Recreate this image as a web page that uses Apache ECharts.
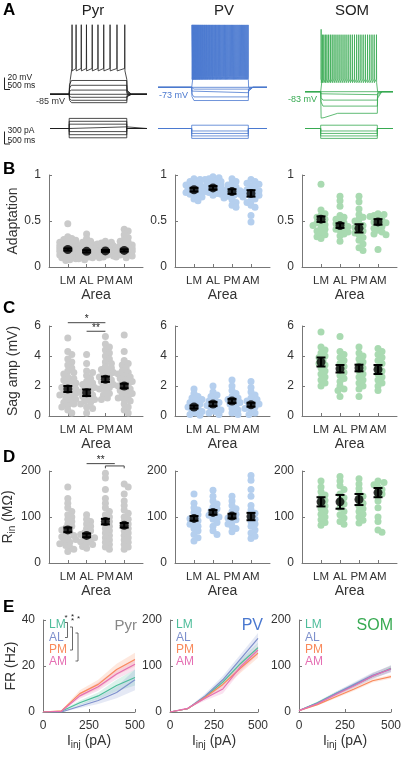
<!DOCTYPE html>
<html><head><meta charset="utf-8">
<script src="https://cdn.jsdelivr.net/npm/echarts@6/dist/echarts.min.js"></script>
<style>html,body{margin:0;padding:0;background:#fff}#c{width:402px;height:758px}</style>
</head><body><div id="c"></div><script>
const FONT = '"Liberation Sans", Arial, sans-serif';
const areas = ['LM','AL','PM','AM'];
const cellTypes = ['Pyr','PV','SOM'];
const typeColors = ['#1e1e1e','#4a78cf','#37aa52'];
const dotColors = ['#cacaca','#b5cfee','#a9dab1'];
const areaColors = ['#4dbd9a','#7e90cc','#f98a5c','#e56fb3'];

// ---- A: example traces ----
const pyrRestMv = -85, pvRestMv = -73, somRestMv = -83;
const pyrStepPa = [-225,-150,-75,40,105,175,245];
const pyrStepMv = [-99,-95,-90,-78,-70,-62,null];
const pvStepPa = [-240,-180,-120,-60,80];
const pvStepMv = [-95,-89,-82,-76,null];
const somStepPa = [-240,-180,-120,-60,80];
const somStepMv = [-119,-107,-97,-88,null];
const somSagMv = [8,0,0,0,0];
const pyrSpikeMs = [50,120,210,300,400,500,600,710,830,965];
const pvSpikeMs = [5,13,21,29,38,47,56,65,74,84,94,104,114,124,135,146,157,168,179,190,202,214,226,238,250,262,274,287,300,313,326,339,352,365,378,392,406,420,434,448,462,476,490,505,520,535,550,565,580,595,610,625,640,656,672,688,704,720,736,752,768,784,800,816,832,848,864,880,897,914,931,948,965,982,998];
const somSpikeMs = [8,30,55,82,110,140,171,203,236,270,305,340,376,412,448,485,522,559,597,635,673,711,750,789,828,867,906,945,985];

// ---- B: adaptation ----
const adaptPyr = [
 [0.47,0.33,0.31,0.30,0.29,0.28,0.27,0.26,0.25,0.25,0.24,0.23,0.23,0.22,0.22,0.21,0.21,0.20,0.20,0.20,0.19,0.19,0.18,0.18,0.18,0.17,0.17,0.16,0.16,0.15,0.15,0.14,0.14,0.13,0.13,0.12,0.11,0.10,0.09,0.08,0.07],
 [0.36,0.31,0.28,0.27,0.25,0.24,0.23,0.22,0.21,0.20,0.20,0.19,0.18,0.18,0.17,0.17,0.16,0.16,0.15,0.15,0.14,0.14,0.13,0.13,0.12,0.11,0.10,0.09,0.08],
 [0.28,0.27,0.26,0.25,0.24,0.23,0.22,0.21,0.21,0.20,0.19,0.19,0.18,0.18,0.17,0.17,0.16,0.16,0.15,0.15,0.14,0.14,0.13,0.12,0.11,0.10],
 [0.41,0.39,0.35,0.32,0.30,0.28,0.27,0.25,0.24,0.23,0.22,0.21,0.20,0.20,0.19,0.18,0.18,0.17,0.17,0.16,0.16,0.15,0.15,0.14,0.14,0.13,0.12,0.11,0.10]];
const adaptPv = [
 [0.96,0.95,0.93,0.92,0.90,0.89,0.88,0.87,0.86,0.85,0.84,0.83,0.82,0.81,0.80,0.79,0.78,0.76,0.74,0.72],
 [0.98,0.97,0.96,0.95,0.94,0.93,0.92,0.91,0.90,0.89,0.88,0.87,0.86,0.85,0.84,0.83,0.82,0.81,0.80,0.79,0.78],
 [0.96,0.93,0.91,0.89,0.87,0.85,0.84,0.83,0.82,0.81,0.80,0.79,0.78,0.77,0.75,0.73,0.70,0.67,0.65],
 [0.95,0.93,0.91,0.90,0.88,0.86,0.84,0.83,0.82,0.81,0.80,0.79,0.78,0.77,0.76,0.74,0.72,0.70,0.67,0.65,0.56,0.49]];
const adaptSom = [
 [0.90,0.62,0.58,0.56,0.54,0.52,0.50,0.48,0.46,0.45,0.43,0.41,0.39,0.37,0.35,0.33,0.31],
 [0.77,0.72,0.66,0.56,0.54,0.52,0.50,0.48,0.47,0.45,0.44,0.42,0.41,0.40,0.38,0.36,0.34,0.28],
 [0.77,0.71,0.63,0.57,0.54,0.52,0.50,0.47,0.45,0.43,0.41,0.39,0.37,0.35,0.32,0.29,0.25,0.21,0.18],
 [0.58,0.57,0.56,0.55,0.53,0.51,0.49,0.48,0.46,0.44,0.42,0.40,0.38,0.36,0.35,0.19]];
const adaptMean = [[0.19,0.17,0.175,0.18],[0.84,0.86,0.82,0.80],[0.52,0.45,0.42,0.49]];
const adaptSem = [[0.012,0.012,0.01,0.012],[0.02,0.02,0.025,0.035],[0.03,0.025,0.045,0.03]];

// ---- C: sag amplitude (mV) ----
const sagPyr = [
 [5.2,4.3,4.1,3.8,3.6,3.4,3.2,3.0,2.9,2.8,2.6,2.5,2.4,2.3,2.2,2.1,2.0,1.9,1.8,1.8,1.7,1.6,1.5,1.5,1.4,1.3,1.2,1.1,1.0,0.9,0.8,0.7,0.6,0.4,0.2],
 [4.1,3.5,3.0,2.9,2.7,2.5,2.3,2.2,2.1,2.0,1.9,1.8,1.7,1.6,1.5,1.4,1.3,1.2,1.1,1.0,0.9,0.8,0.6,0.5,0.2],
 [5.3,4.8,4.6,4.4,4.2,4.0,3.8,3.6,3.5,3.3,3.2,3.1,3.0,2.9,2.8,2.7,2.6,2.5,2.4,2.3,2.2,2.1,2.0,1.9,1.8,1.7,1.5,1.4,1.2,1.1],
 [5.4,4.3,3.7,3.5,3.4,3.2,3.0,2.9,2.8,2.7,2.6,2.5,2.4,2.3,2.2,2.1,2.0,1.9,1.8,1.7,1.6,1.5,1.4,1.3,1.2,1.1,1.0,0.8,0.6,0.4,0.2]];
const sagPv = [
 [1.8,1.5,1.3,1.2,1.1,1.0,0.9,0.8,0.7,0.6,0.5,0.4,0.3,0.2,0.1,0.05],
 [2.0,1.6,1.4,1.3,1.1,1.0,0.9,0.8,0.7,0.6,0.5,0.4,0.3,0.2,0.1],
 [2.4,2.0,1.7,1.5,1.3,1.2,1.1,1.0,0.9,0.8,0.7,0.5,0.4,0.2,0.1],
 [2.3,1.9,1.6,1.4,1.2,1.1,1.0,0.9,0.8,0.7,0.6,0.5,0.4,0.2,0.1]];
const sagSom = [
 [5.6,4.6,4.4,4.2,4.0,3.9,3.7,3.5,3.4,3.2,3.0,2.8,2.6,2.4,2.2,2.0],
 [5.3,4.3,4.1,3.9,3.7,3.5,3.3,3.1,2.9,2.7,2.5,2.3,2.0,1.8,1.7,1.3],
 [4.6,4.2,4.0,3.8,3.6,3.4,3.2,3.0,2.8,2.6,2.4,2.2,2.0,1.8,1.3],
 [4.5,4.3,4.1,3.9,3.7,3.5,3.2,3.0,2.8,2.6,2.4,2.2,2.0,1.7]];
const sagMean = [[1.8,1.55,2.45,2.0],[0.6,0.8,1.0,0.75],[3.6,3.15,3.2,3.1]];
const sagSem = [[0.2,0.22,0.18,0.15],[0.1,0.14,0.14,0.13],[0.3,0.25,0.22,0.3]];
const sagPyrSig = [{a:1,b:3,y:6.22,label:'*'},{a:2,b:3,y:5.65,label:'**'}];

// ---- D: input resistance (MOhm) ----
const rinPyr = [
 [165,140,130,120,112,105,100,95,90,85,80,76,72,68,64,60,57,54,51,48,45,42,38,34,30,25],
 [105,95,90,85,80,75,70,66,62,58,55,52,49,46,43,40,36,32],
 [195,185,160,140,130,120,112,105,100,95,90,85,80,75,70,65,60,55,50,45,40,35,30],
 [172,165,150,135,125,115,108,100,95,90,85,80,75,70,65,60,55,50,45,40,35,30]];
const rinPv = [
 [150,130,120,115,110,105,100,96,92,88,84,80,75,70,62,55,48],
 [158,145,135,128,122,118,113,108,104,100,95,88,80,70,62],
 [145,135,125,118,112,106,102,98,94,90,85,80,75,68],
 [190,180,160,145,125,115,108,100,95,90,85,80,72,65,58,53]];
const rinSom = [
 [178,165,155,148,142,136,130,124,118,112,106,100,94,88,82],
 [188,178,168,160,150,142,135,128,120,112,105,98,90,84],
 [183,172,162,152,145,138,130,124,118,112,106,100,93,87],
 [178,175,170,165,160,155,150,145,135,120,100,90,72,67]];
const rinMean = [[72,60,90,82],[97,110,102,101],[133,133,138,153]];
const rinSem = [[5,4,6,5],[5,5,5,8],[10,15,12,10]];
const rinPyrSig = [{a:2,b:3.5,y:216,label:'**'},{a:3,b:4,y:211,drop:6}];

// ---- E: F-I curves ----
const injPa = [0,100,200,300,400,500];
const frPyrMean = [[0,0.3,4,7,11.5,15],[0,0,2.5,5,8.5,14],[0,0.5,8,12,18.5,22.8],[0,0.3,7,11,16.5,20.8]];
const frPyrSem = [[0,0.2,1,1.5,2.5,3.5],[0,0.1,0.8,1.5,2.5,4.5],[0,0.3,1.5,2,2.5,3],[0,0.2,1.2,1.8,2.2,2.5]];
const frPvMean = [[0,7,33,65,105,140],[0,7,35,70,115,160],[0,7,32,60,95,128],[0,8,30,50,98,135]];
const frPvSem = [[0,1,4,7,9,10],[0,1,5,8,10,12],[0,1,4,8,10,10],[0,1,5,10,10,10]];
const frSomMean = [[3,20,40,58,78,95],[3,19,40,60,80,93],[3,16,33,50,68,77],[3,18,38,57,78,94]];
const frSomSem = [[1,3,4,5,6,7],[1,3,4,5,6,7],[1,2,3,4,4,4],[1,3,4,5,6,7]];

// ================== build ==================
const option = {animation:false, backgroundColor:'#fff', textStyle:{fontFamily:FONT},
  grid:[], xAxis:[], yAxis:[], series:[], graphic:[]};
function addGrid(rect, xa, ya){
  const i = option.grid.length;
  option.grid.push(Object.assign({containLabel:false, outerBoundsMode:'none'}, rect));
  option.xAxis.push(Object.assign({gridIndex:i}, xa));
  option.yAxis.push(Object.assign({gridIndex:i}, ya));
  return i;
}
const hidden = (min,max)=>({type:'value', min, max, show:false, splitLine:{show:false}});

// ---- A traces ----
function subTrace(t0,t1,rest,level,sag){
  const pts=[[t0,rest],[0,rest]];
  if (sag){ pts.push([8,level-sag],[60,level-sag*0.9],[300,level]); }
  else { pts.push([5,rest+(level-rest)*0.7],[40,level]); }
  pts.push([1000,level],[1005,rest+(level-rest)*0.3],[1080,rest],[t1,rest]);
  return pts;
}
function spikeTrace(t0,t1,rest,spikes,p){
  const pts=[[t0,rest],[0,rest],[20,p.plateau]];
  spikes.forEach((t,i)=>{ pts.push([t-3,p.thresh],[t,i===0&&p.first?p.first:p.peak],[t+3,p.trough]); });
  pts.push([1000,p.plateau],[1005,rest],[t1,rest]);
  return pts;
}
function curTrace(t0,t1,lvl){ return [[t0,0],[0,0],[0,lvl],[1000,lvl],[1000,0],[t1,0]]; }
const aCells = [
 {left:50,width:97,t0:-333,t1:1351,vmin:-111.2,vmax:42.2,vh:92,rest:pyrRestMv,pa:pyrStepPa,mv:pyrStepMv,sag:[],spikes:pyrSpikeMs,sp:{plateau:-60,thresh:-42,peak:31,trough:-46}},
 {left:158,width:109,t0:-595,t1:1330,vmin:-110.8,vmax:42.5,vh:92,rest:pvRestMv,pa:pvStepPa,mv:pvStepMv,sag:[],spikes:pvSpikeMs,sp:{plateau:-58,thresh:-55,peak:31,trough:-60}},
 {left:305,width:88,t0:-277,t1:1277,vmin:-138.5,vmax:39.8,vh:107,rest:somRestMv,pa:somStepPa,mv:somStepMv,sag:somSagMv,spikes:somSpikeMs,sp:{plateau:-66,thresh:-62,first:21,peak:12,trough:-68}}
];
aCells.forEach((c,ci)=>{
  const gv = addGrid({left:c.left,top:18,width:c.width,height:c.vh}, hidden(c.t0,c.t1), hidden(c.vmin,c.vmax));
  const gi = addGrid({left:c.left,top:112,width:c.width,height:33}, hidden(c.t0,c.t1), hidden(-400,400));
  const ls = {color:typeColors[ci], width:0.8};
  c.mv.forEach((lv,k)=>{
    const d = lv===null ? spikeTrace(c.t0,c.t1,c.rest,c.spikes,c.sp) : subTrace(c.t0,c.t1,c.rest,lv,c.sag[k]||0);
    option.series.push({type:'line', xAxisIndex:gv, yAxisIndex:gv, data:d, symbol:'none', lineStyle:ls, silent:true});
  });
  option.series.push({type:'line', xAxisIndex:gv, yAxisIndex:gv, data:[[c.t0,c.rest],[c.t1,c.rest]], symbol:'none', lineStyle:ls, silent:true});
  c.pa.forEach(lv=>{
    option.series.push({type:'line', xAxisIndex:gi, yAxisIndex:gi, data:curTrace(c.t0,c.t1,lv), symbol:'none', lineStyle:{color:typeColors[ci], width:0.8}, silent:true});
  });
});

// ---- B-D scatter panels ----
function swarm(values, cat, pxY, pxX){
  const sorted = values.slice().sort((a,b)=>b-a);
  const placed=[], out=[];
  const offs=[0,2,-2,4,-4,6,-6,8,-8];
  for (const v of sorted){
    const py=v*pxY; let best=0, bestScore=-1;
    for (const o of offs){
      let md=Infinity;
      for (const p of placed){ const d=Math.hypot(p[0]-o,p[1]-py); if(d<md) md=d; }
      if (md>=4.3){ best=o; bestScore=Infinity; break; }
      if (md>bestScore){ bestScore=md; best=o; }
    }
    placed.push([best,py]); out.push([cat+best/pxX, v]);
  }
  return out;
}
const colLefts=[49,175,302], colWidths=[94,95,95];
const rows = [
 {top:175,h:92,min:0,max:1,iv:0.5,name:'Adaptation',vals:[adaptPyr,adaptPv,adaptSom],mean:adaptMean,sem:adaptSem},
 {top:326,h:90,min:0,max:6,iv:2,name:'Sag amp (mV)',vals:[sagPyr,sagPv,sagSom],mean:sagMean,sem:sagSem,sig:sagPyrSig},
 {top:471,h:92,min:0,max:200,iv:100,name:'{a|R}{s|in}{a| (MΩ)}',vals:[rinPyr,rinPv,rinSom],mean:rinMean,sem:rinSem,sig:rinPyrSig}
];
const axisLineStyle={color:'#777', width:1};
const nameRich={a:{fontSize:14,color:'#333',fontFamily:FONT},s:{fontSize:10,color:'#333',fontFamily:FONT,padding:[0,0,-8,0]}};
rows.forEach(r=>{
  for (let c=0;c<3;c++){
    const g = addGrid({left:colLefts[c],top:r.top,width:colWidths[c],height:r.h},
      {type:'value',min:0,max:5,interval:1,splitLine:{show:false},
       axisLine:{show:true,lineStyle:axisLineStyle},
       axisTick:{show:true,inside:true,length:3,customValues:[1,2,3,4],lineStyle:axisLineStyle},
       axisLabel:{customValues:[1,2,3,4],formatter:v=>areas[v-1]||'',fontSize:11.5,color:'#333',margin:8,fontFamily:FONT},
       name:'Area',nameLocation:'middle',nameGap:21,nameTextStyle:{fontSize:14,color:'#333',fontFamily:FONT}},
      {type:'value',min:r.min,max:r.max,interval:r.iv,splitLine:{show:false},
       axisLine:{show:true,lineStyle:axisLineStyle},
       axisTick:{show:true,inside:true,length:3,lineStyle:axisLineStyle},
       axisLabel:{fontSize:12,color:'#333',margin:8,fontFamily:FONT},
       name:c===0?r.name:'',nameLocation:'middle',nameGap:29,nameRotate:90,
       nameTextStyle:{fontSize:14,color:'#333',fontFamily:FONT,rich:nameRich}});
    const pxY=r.h/(r.max-r.min), pxX=colWidths[c]/5;
    const pts=[]; r.vals[c].forEach((vs,k)=>pts.push(...swarm(vs,k+1,pxY,pxX)));
    option.series.push({type:'scatter',xAxisIndex:g,yAxisIndex:g,data:pts,symbolSize:7,
      itemStyle:{color:dotColors[c],opacity:1},silent:true,z:2});
    option.series.push({type:'custom',xAxisIndex:g,yAxisIndex:g,z:5,silent:true,
      data:r.mean[c].map((m,k)=>[k+1,m,r.sem[c][k]]),
      renderItem:(p,api)=>{
        const x=api.value(0),m=api.value(1),s=api.value(2);
        const t=api.coord([x,m+s]), b=api.coord([x,m-s]), cw=4.5;
        const st={stroke:'#000',lineWidth:2};
        return {type:'group',children:[
          {type:'line',shape:{x1:t[0],y1:t[1],x2:b[0],y2:b[1]},style:st},
          {type:'line',shape:{x1:t[0]-cw,y1:t[1],x2:t[0]+cw,y2:t[1]},style:st},
          {type:'line',shape:{x1:b[0]-cw,y1:b[1],x2:b[0]+cw,y2:b[1]},style:st}]};
      }});
    option.series.push({type:'scatter',xAxisIndex:g,yAxisIndex:g,data:r.mean[c].map((m,k)=>[k+1,m]),
      symbolSize:9,itemStyle:{color:'#000'},silent:true,z:6});
    if (c===0 && r.sig){
      option.series.push({type:'custom',xAxisIndex:g,yAxisIndex:g,z:7,silent:true,clip:false,
        data:r.sig.map(s=>[s.a,s.b,s.y,s.drop||0]),
        renderItem:(p,api)=>{
          const sg=r.sig[p.dataIndex];
          const a=api.coord([api.value(0),api.value(2)]), b=api.coord([api.value(1),api.value(2)]);
          const dr=api.value(3), st={stroke:'#444',lineWidth:1};
          const ch=[{type:'line',shape:{x1:a[0],y1:a[1],x2:b[0],y2:b[1]},style:st}];
          if (dr){ ch.push({type:'line',shape:{x1:a[0],y1:a[1],x2:a[0],y2:a[1]+dr*0.4},style:st},
                            {type:'line',shape:{x1:b[0],y1:b[1],x2:b[0],y2:b[1]+dr*0.4},style:st}); }
          if (sg.label) ch.push({type:'text',style:{x:(a[0]+b[0])/2,y:a[1]+2,text:sg.label,fontSize:10,fill:'#222',align:'center',verticalAlign:'bottom',fontFamily:FONT}});
          return {type:'group',children:ch};
        }});
    }
  }
});

// ---- E: F-I curves ----
const eLefts=[43,170,299], eWidths=[92,88,92];
const frMeans=[frPyrMean,frPvMean,frSomMean], frSems=[frPyrSem,frPvSem,frSomSem], frMax=[40,200,200], frIv=[20,100,100];
for (let c=0;c<3;c++){
  const g = addGrid({left:eLefts[c],top:620,width:eWidths[c],height:92},
    {type:'value',min:0,max:500,interval:250,splitLine:{show:false},
     axisLine:{show:true,lineStyle:axisLineStyle},
     axisTick:{show:true,inside:true,length:3,lineStyle:axisLineStyle},
     axisLabel:{fontSize:12,color:'#333',margin:8,fontFamily:FONT},
     name:'{a|I}{s|inj}{a| (pA)}',nameLocation:'middle',nameGap:22,
     nameTextStyle:{fontSize:14,color:'#333',fontFamily:FONT,rich:nameRich}},
    {type:'value',min:0,max:frMax[c],interval:frIv[c],splitLine:{show:false},
     axisLine:{show:true,lineStyle:axisLineStyle},
     axisTick:{show:true,inside:true,length:3,lineStyle:axisLineStyle},
     axisLabel:{fontSize:12,color:'#333',margin:8,fontFamily:FONT},
     name:c===0?'FR (Hz)':'',nameLocation:'middle',nameGap:23,nameRotate:90,
     nameTextStyle:{fontSize:14,color:'#333',fontFamily:FONT}});
  for (let k=0;k<4;k++){
    const m=frMeans[c][k], s=frSems[c][k], col=areaColors[k];
    option.series.push({type:'custom',xAxisIndex:g,yAxisIndex:g,silent:true,z:2,
      data:injPa.map((x,i)=>[x,m[i]-s[i],m[i]+s[i]]),
      renderItem:(p,api)=>{
        if (p.dataIndex!==0) return null;
        const pts=[];
        for (let i=0;i<injPa.length;i++) pts.push(api.coord([injPa[i],m[i]+s[i]]));
        for (let i=injPa.length-1;i>=0;i--) pts.push(api.coord([injPa[i],m[i]-s[i]]));
        return {type:'polygon',shape:{points:pts},style:{fill:col,opacity:0.2}};
      }});
  }
  for (let k=0;k<4;k++){
    option.series.push({type:'line',xAxisIndex:g,yAxisIndex:g,symbol:'none',silent:true,name:areas[k],
      data:injPa.map((x,i)=>[x,frMeans[c][k][i]]),lineStyle:{color:areaColors[k],width:1.2},z:4});
  }
}

// ---- text & annotations ----
const G = option.graphic;
function txt(x,y,text,o){ G.push({type:'text',x,y,silent:true,style:Object.assign({text,fontFamily:FONT,fontSize:12,fill:'#222',align:'left',verticalAlign:'middle'},o||{})}); }
function poly(points,stroke,w){ G.push({type:'polyline',silent:true,shape:{points},style:{stroke:stroke||'#222',lineWidth:w||1,fill:null}}); }
[['A',10],['B',169],['C',308],['D',457],['E',607]].forEach(([l,y])=>txt(3,y,l,{fontSize:17,fontWeight:'bold',fill:'#000'}));
txt(93,11,'Pyr',{fontSize:15,align:'center'});
txt(224,11,'PV',{fontSize:15,align:'center'});
txt(352,11,'SOM',{fontSize:15,align:'center'});
// scale bars
poly([[4.5,77.5],[4.5,89.5],[10,89.5]],'#222',1);
txt(7.5,77.5,'20 mV',{fontSize:8.5});
txt(7.5,86,'500 ms',{fontSize:8.5});
poly([[4.5,131.5],[4.5,144],[10,144]],'#222',1);
txt(7.5,131,'300 pA',{fontSize:8.5});
txt(7.5,140.5,'500 ms',{fontSize:8.5});
txt(36,102,'-85 mV',{fontSize:9,fill:'#333'});
txt(159,96,'-73 mV',{fontSize:9,fill:typeColors[1]});
txt(288,100,'-83 mV',{fontSize:9,fill:typeColors[2]});
// E legends
const legX=[49,176,305];
for (let c=0;c<3;c++) areas.forEach((a,k)=>txt(legX[c],625+k*12.2,a,{fontSize:12,fill:areaColors[k]}));
txt(137,626,'Pyr',{fontSize:15,align:'right',fill:'#888'});
txt(263,626,'PV',{fontSize:16,align:'right',fill:typeColors[1]});
txt(393,626,'SOM',{fontSize:16,align:'right',fill:typeColors[2]});
// E Pyr significance brackets
poly([[65,622.5],[67.5,622.5],[67.5,637.5],[65,637.5]],'#444',0.8);
poly([[70,627],[72.5,627],[72.5,650],[70,650]],'#444',0.8);
poly([[75.5,633],[78,633],[78,661],[75.5,661]],'#444',0.8);
txt(66,618,'*',{fontSize:8,align:'center'});
txt(72.5,617,'*',{fontSize:8,align:'center'});
txt(72.5,621,'*',{fontSize:8,align:'center'});
txt(78.5,618.5,'*',{fontSize:8,align:'center'});

const chart = echarts.init(document.getElementById('c'), null, {renderer:'canvas'});
chart.setOption(option);
</script></body></html>
